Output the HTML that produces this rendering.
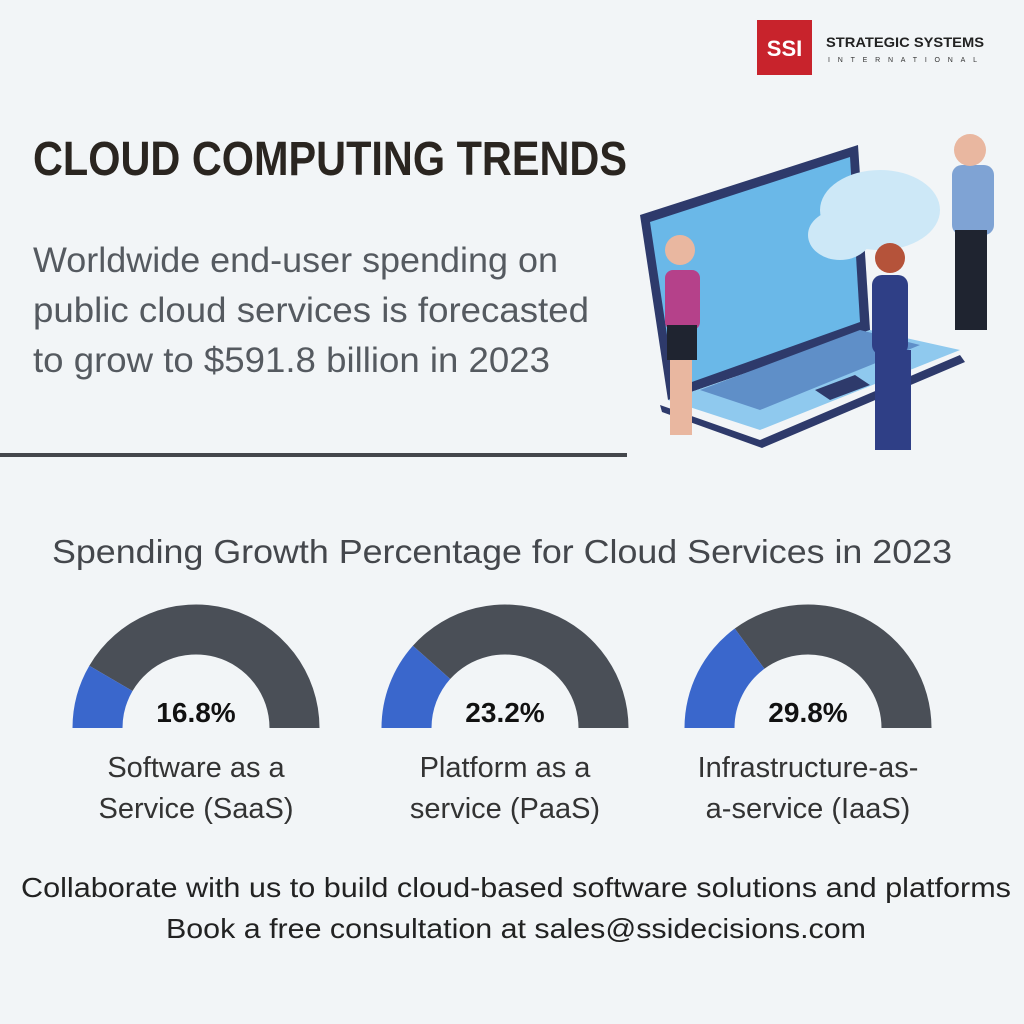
<!DOCTYPE html>
<html><head><meta charset="utf-8"><style>
html,body{margin:0;padding:0;background:#f2f5f7;}
svg{display:block;font-family:"Liberation Sans",sans-serif;}
</style></head><body>
<svg width="1024" height="1024" viewBox="0 0 1024 1024">
<rect width="1024" height="1024" fill="#f2f5f7"/>
<g>
<rect x="757" y="20" width="55" height="55" fill="#c8232c"/>
<text x="784.5" y="56" font-size="22" font-weight="bold" fill="#fff" text-anchor="middle">SSI</text>
<text x="826" y="47" font-size="14" font-weight="bold" fill="#222" textLength="158" lengthAdjust="spacingAndGlyphs">STRATEGIC SYSTEMS</text>
<text x="828" y="62" font-size="7" fill="#333" textLength="155" letter-spacing="6">INTERNATIONAL</text>
</g>
<text x="33" y="175" font-size="48" font-weight="bold" fill="#2a2520" textLength="594" lengthAdjust="spacingAndGlyphs">CLOUD COMPUTING TRENDS</text>
<g fill="#555a60" font-size="35">
<text x="33" y="272" textLength="525" lengthAdjust="spacingAndGlyphs">Worldwide end-user spending on</text>
<text x="33" y="322" textLength="556" lengthAdjust="spacingAndGlyphs">public cloud services is forecasted</text>
<text x="33" y="372" textLength="517" lengthAdjust="spacingAndGlyphs">to grow to $591.8 billion in 2023</text>
</g>
<rect x="0" y="453" width="627" height="4" fill="#44474c"/>
<g>
<polygon points="640,215 858,145 870,330 668,400" fill="#2e3a6b"/>
<polygon points="650,222 850,157 860,322 675,388" fill="#6ab8e8"/>
<polygon points="668,400 870,330 960,350 760,430" fill="#8fc9ee"/>
<polygon points="660,405 760,440 960,355 965,362 762,448 662,412" fill="#2e3a6b"/>
<polygon points="700,390 860,330 920,345 760,410" fill="#5f8fc8"/>
<polygon points="815,390 855,375 870,385 830,400" fill="#2e3a6b"/>
<ellipse cx="880" cy="210" rx="60" ry="40" fill="#cde8f7"/>
<ellipse cx="840" cy="235" rx="32" ry="25" fill="#cde8f7"/>
<rect x="952" y="165" width="42" height="70" rx="10" fill="#7fa3d4"/>
<rect x="955" y="230" width="32" height="100" fill="#1f2430"/>
<circle cx="970" cy="150" r="16" fill="#e9b7a0"/>
<rect x="665" y="270" width="35" height="60" rx="8" fill="#b5418a"/>
<rect x="667" y="325" width="30" height="35" fill="#1f2430"/>
<rect x="670" y="360" width="22" height="75" fill="#e9b7a0"/>
<circle cx="680" cy="250" r="15" fill="#e9b7a0"/>
<rect x="872" y="275" width="36" height="80" rx="10" fill="#2f3f86"/>
<rect x="875" y="350" width="36" height="100" fill="#2f3f86"/>
<circle cx="890" cy="258" r="15" fill="#b5533a"/>
</g>
<text x="502" y="563" font-size="33" fill="#44474c" text-anchor="middle" textLength="900" lengthAdjust="spacingAndGlyphs">Spending Growth Percentage for Cloud Services in 2023</text>
<g id="gauges"></g>
<g fill="#222" font-size="28" text-anchor="middle">
<text x="516" y="897" textLength="990" lengthAdjust="spacingAndGlyphs">Collaborate with us to build cloud-based software solutions and platforms</text>
<text x="516" y="938" textLength="700" lengthAdjust="spacingAndGlyphs">Book a free consultation at sales@ssidecisions.com</text>
</g>
</svg>
<script>
const categories1 = ["Software as a", "Platform as a", "Infrastructure-as-"];
const categories2 = ["Service (SaaS)", "service (PaaS)", "a-service (IaaS)"];
const values = [16.8, 23.2, 29.8];
const centersX = [196, 505, 808];
const cy = 728, R = 123.5, r = 73.5;
const NS = "http://www.w3.org/2000/svg";
const g = document.getElementById("gauges");
function pt(cx, rad, a){ return [cx - rad*Math.cos(a), cy - rad*Math.sin(a)]; }
function arc(cx, a0, a1){
  const p0=pt(cx,R,a0), p1=pt(cx,R,a1), q1=pt(cx,r,a1), q0=pt(cx,r,a0);
  return `M${p0} A${R},${R} 0 0 1 ${p1} L${q1} A${r},${r} 0 0 0 ${q0} Z`;
}
values.forEach((v,i)=>{
  const cx = centersX[i];
  const a = Math.PI * v/100;
  const bg = document.createElementNS(NS,"path");
  bg.setAttribute("d", arc(cx, a, Math.PI));
  bg.setAttribute("fill","#4a4f57");
  
  
  g.appendChild(bg);
  const fg = document.createElementNS(NS,"path");
  fg.setAttribute("d", arc(cx, 0, a));
  fg.setAttribute("fill","#3a67cc");
  
  
  g.appendChild(fg);
  const t = document.createElementNS(NS,"text");
  t.setAttribute("x", cx); t.setAttribute("y", 722);
  t.setAttribute("text-anchor","middle"); t.setAttribute("font-size","28"); t.setAttribute("font-weight","bold"); t.setAttribute("fill","#111");
  t.textContent = v.toFixed(1) + "%";
  
  
  g.appendChild(t);
  [categories1[i], categories2[i]].forEach((s,j)=>{
    const l = document.createElementNS(NS,"text");
    l.setAttribute("x", cx); l.setAttribute("y", 777 + j*41);
    l.setAttribute("text-anchor","middle"); l.setAttribute("font-size","29"); l.setAttribute("fill","#333");
    l.textContent = s;
    
    
    g.appendChild(l);
  });
});
</script>
</body></html>
